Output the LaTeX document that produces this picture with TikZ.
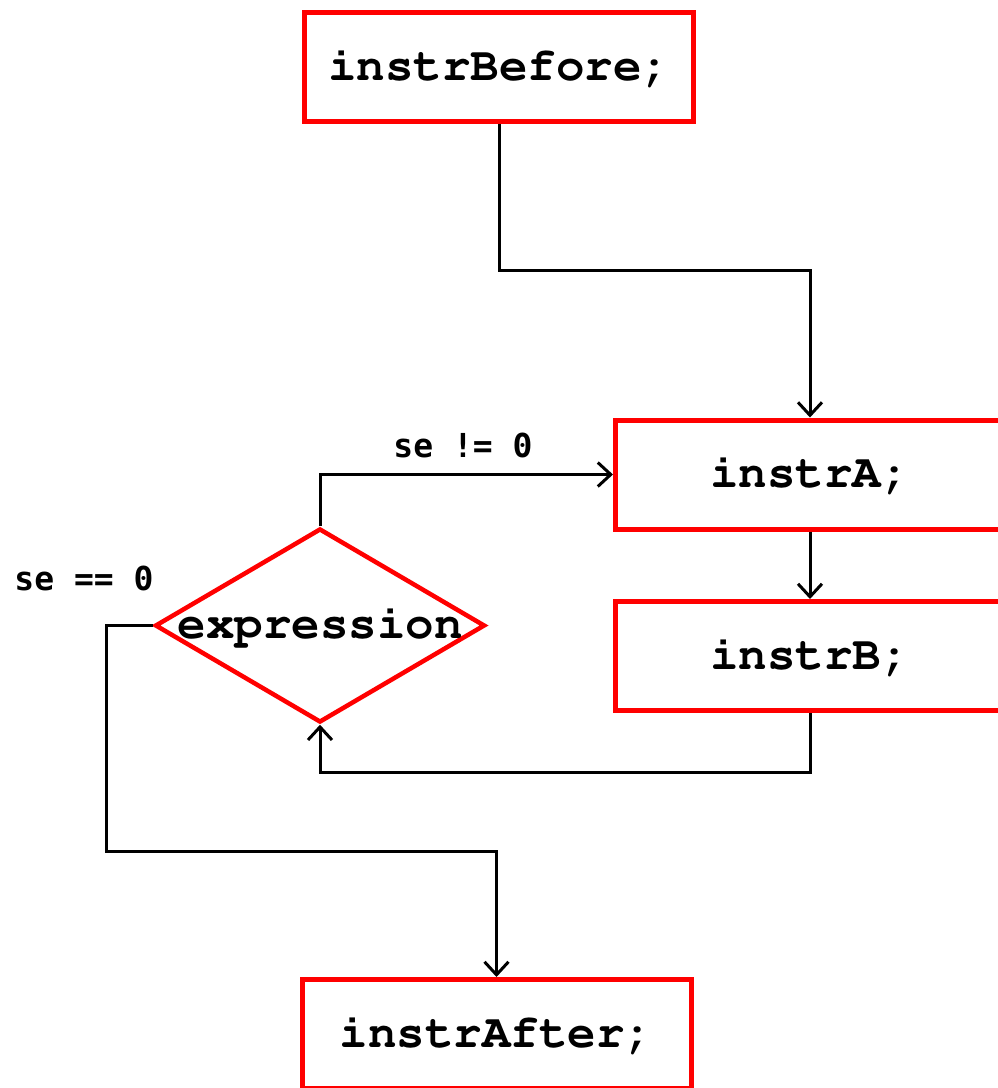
\documentclass[tikz,border=0pt]{standalone}
\usepackage[T1,TU]{fontenc}
\usepackage{fontspec}
\newfontfamily\lblfont{DejaVu Sans Mono}
\newcommand\mycodefont{\fontencoding{T1}\fontfamily{pcr}\fontseries{b}\selectfont}
\usetikzlibrary{shapes.geometric,arrows.meta}
\begin{document}
\begin{tikzpicture}[x=1pt,y=-1pt,
  code/.style={font=\mycodefont\fontsize{47.5}{50}\selectfont},
  lbl/.style={font=\lblfont\bfseries\fontsize{33}{36}\selectfont},
  box/.style={draw=red,line width=5pt,minimum width=389pt,minimum height=109pt,inner sep=0pt,code},
  dia/.style={diamond,draw=red,line width=4.5pt,minimum width=330pt,minimum height=194pt,inner sep=0pt},
  conn/.style={draw=black,line width=3pt,-{Straight Barb[length=13pt,width=24pt]}},
  plain/.style={draw=black,line width=3pt}]
\useasboundingbox (0,0) rectangle (997,1088);
\node[box] (before) at (499,67) {instrBefore;};
\node[box] (A) at (810,474.5) {instrA;};
\node[box] (B) at (810,656) {instrB;};
\node[box] (after) at (496.5,1034) {instrAfter;};
\node[dia,label={[code]center:expression}] (d) at (320,625.5) {};
\node[lbl] (ne) at (463,445) {se != 0};
\node[lbl] (eq) at (84,578) {se == 0};
\coordinate (t1) at (499,270);
\coordinate (b1) at (810,772);
\coordinate (l1) at (106,851);
\draw[conn] (before.south) -- (t1) -| (A.north);
\draw[conn] (A.south) -- (B.north);
\draw[conn] (B.south) -- (b1) -| (d.south);
\draw[conn] (d.north) |- (A.west);
\draw[conn] (d.west) -| (l1) -| (after.north);
\end{tikzpicture}
\end{document}
